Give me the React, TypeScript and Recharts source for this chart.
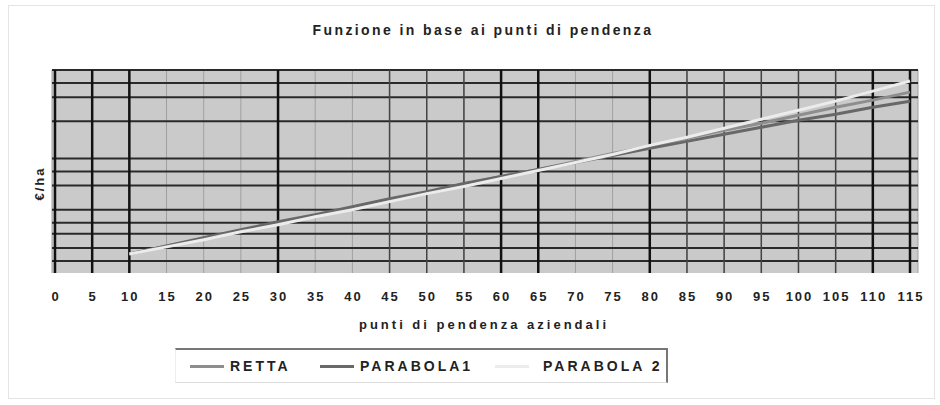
import React from 'react';
import { LineChart, Line, XAxis, YAxis, CartesianGrid, ReferenceLine, Legend } from 'recharts';

// punti di pendenza (x) and €/ha values
const punti = [10, 15, 20, 25, 30, 35, 40, 45, 50, 55, 60, 65, 70, 75, 80, 85, 90, 95, 100, 105, 110, 115];
const retta = [19, 27, 34, 42, 50, 57, 65, 73, 80, 88, 96, 103, 111, 119, 126, 134, 142, 149, 157, 165, 172, 180];
const parabola1 = [19, 27, 35, 43, 51, 58, 66, 74, 81, 89, 96, 103, 110, 117, 124, 131, 138, 145, 152, 158, 165, 171];
const parabola2 = [19, 26, 33, 41, 48, 56, 63, 71, 79, 86, 94, 102, 110, 118, 127, 135, 144, 153, 162, 171, 181, 191];

const xTicks = [0, 5, 10, 15, 20, 25, 30, 35, 40, 45, 50, 55, 60, 65, 70, 75, 80, 85, 90, 95, 100, 105, 110, 115];
const yGrid = [12, 25, 39, 50, 63, 87, 101, 114, 151, 175, 189, 202];
const darkVerticals = [0, 5, 10, 30, 60, 65, 80, 110, 115];
const mediumVerticals = [45, 50, 55, 85, 90, 95, 100, 105];

const data = punti.map((p, i) => ({
  punti: p,
  RETTA: retta[i],
  PARABOLA1: parabola1[i],
  'PARABOLA 2': parabola2[i],
}));

const series = [
  { key: 'RETTA', color: '#8e8e8e' },
  { key: 'PARABOLA1', color: '#686868' },
  { key: 'PARABOLA 2', color: '#ececec' },
];

const font = '"Liberation Sans", Arial, sans-serif';

const LegendBox = () => (
  <div
    style={{
      position: 'absolute',
      left: 175,
      top: 348,
      width: 490,
      height: 32,
      borderTop: '2px solid #777',
      borderRight: '2px solid #777',
      borderBottom: '1px solid #ddd',
      borderLeft: '1px solid #eee',
      fontFamily: font,
      fontWeight: 'bold',
      fontSize: 14,
      letterSpacing: 3,
      color: '#222',
    }}
  >
    {series.map((s, i) => (
      <div key={s.key} style={{ position: 'absolute', left: [14, 144, 319][i], top: 8, display: 'flex', alignItems: 'center' }}>
        <div style={{ width: 34, height: 3, background: s.color, marginRight: i === 2 ? 14 : 6 }} />
        <span>{s.key}</span>
      </div>
    ))}
  </div>
);

export default function App() {
  return (
    <div style={{ position: 'absolute', left: 0, top: 0, width: 940, height: 405, background: '#fff' }}>
      <div style={{ position: 'absolute', left: 8, top: 5, width: 925, height: 392, border: '1px solid #e4e4e4' }} />
      <div style={{ position: 'absolute', left: 0, top: 22, width: 966, textAlign: 'center', fontFamily: font, fontWeight: 'bold', fontSize: 14, letterSpacing: 2.4, color: '#222' }}>
        Funzione in base ai punti di pendenza
      </div>
      <div
        style={{
          position: 'absolute',
          left: 18,
          top: 176,
          width: 42,
          textAlign: 'center',
          transform: 'rotate(-90deg)',
          fontFamily: font,
          fontWeight: 'bold',
          fontSize: 13,
          letterSpacing: 2,
          color: '#222',
        }}
      >
        €/ha
      </div>
      <div style={{ position: 'absolute', left: 0, top: 317, width: 968, textAlign: 'center', fontFamily: font, fontWeight: 'bold', fontSize: 13, letterSpacing: 3, color: '#222' }}>
        punti di pendenza aziendali
      </div>
      <LineChart width={940} height={405} data={data} margin={{ top: 70, left: 52, right: 22, bottom: 102 }} style={{ position: 'absolute', left: 0, top: 0 }}>
        <CartesianGrid fill="#cacaca" stroke="#a0a0a0" strokeWidth={1} vertical={true} horizontal={false} />
        {yGrid.map((v) => (
          <ReferenceLine key={'h' + v} y={v} stroke="#2a2a2a" strokeWidth={2} />
        ))}
        {mediumVerticals.map((v) => (
          <ReferenceLine key={'m' + v} x={v} stroke="#444" strokeWidth={1.5} />
        ))}
        {darkVerticals.map((v) => (
          <ReferenceLine key={'d' + v} x={v} stroke="#111" strokeWidth={2.5} />
        ))}
        <XAxis
          dataKey="punti"
          type="number"
          domain={[0, 115]}
          ticks={xTicks}
          interval={0}
          padding={{ left: 3, right: 8 }}
          axisLine={false}
          tickLine={false}
          tickSize={0}
          tickMargin={19}
          height={30}
          tick={{ fontFamily: font, fontWeight: 'bold', fontSize: 13, fill: '#222', letterSpacing: 2, dx: 1 }}
        />
        <YAxis type="number" domain={[0, 202]} ticks={yGrid} width={0} tick={false} axisLine={false} tickLine={false} />
        {series.map((s) => (
          <Line key={s.key} dataKey={s.key} stroke={s.color} strokeWidth={3} dot={false} isAnimationActive={false} />
        ))}
        <Legend content={() => null} />
      </LineChart>
      <LegendBox />
    </div>
  );
}
